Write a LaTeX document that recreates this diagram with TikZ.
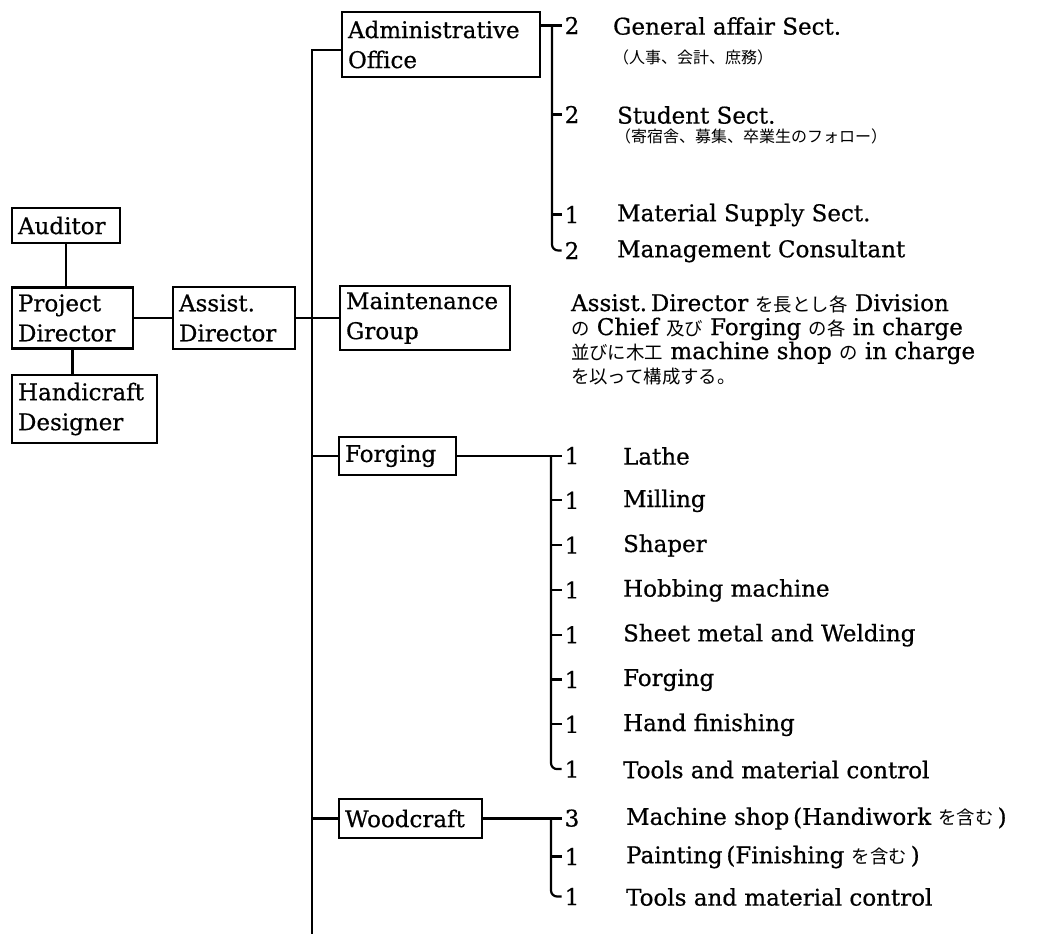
\documentclass[tikz,border=0pt]{standalone}
\usepackage{fontspec}
\setmainfont{DejaVu Serif}[FakeBold=0.6]
\newfontfamily\cjk{Noto Sans CJK JP}[Scale=0.8]
\newcommand\jp[1]{{\cjk #1}}
\usetikzlibrary{positioning}

\tikzset{
	unit/.style={draw=black,line width=1.1pt,inner sep=3pt,outer sep=0pt,align=left,font=\fontsize{11.5}{15}\selectfont},
	num/.style={inner sep=1.5pt,outer sep=0pt,anchor=base,font=\fontsize{11.5}{14}\selectfont},
	item/.style={anchor=west,inner sep=0pt,font=\fontsize{11.5}{14}\selectfont},
	sub/.style={anchor=west,inner sep=0pt,font=\fontsize{10}{12}\selectfont\cjk},
}

\begin{document}
\begin{tikzpicture}[x=.5pt,y=-.5pt,line width=1.1pt]
	\useasboundingbox (0,0) rectangle (1058,934);

	% top management
	\node [unit,text width=48pt,minimum height=17.5pt] at (66,225.5) (auditor) {Auditor};
	\node [unit,text width=54.5pt,minimum height=30.5pt] at (72.5,318) (proj_dir) {Project\\Director};
	\node [unit,text width=66.5pt,minimum height=34pt] at (84.5,409) (hc_designer) {Handicraft\\Designer};
	\node [unit,text width=55pt,minimum height=31pt] at (234,318) (asst_dir) {Assist.\\Director};

	% divisions
	\node [unit,text width=93pt,minimum height=32.5pt] at (441,44.5) (admin) {Administrative\\Office};
	\node [unit,text width=79pt,minimum height=31pt] at (425,318) (maint) {Maintenance\\Group};
	\node [unit,text width=52.5pt,minimum height=19pt] at (397.5,456) (forg) {Forging};
	\node [unit,text width=65.5pt,minimum height=19.5pt] at (410.5,818.5) (wood) {Woodcraft};

	\draw (auditor.south) -- (auditor.south |- proj_dir.north);
	\draw (proj_dir.south) -- (proj_dir.south |- hc_designer.north);
	\draw (proj_dir.east) -- (asst_dir.west);
	\draw (asst_dir.east) -- (maint.west);

	\coordinate (trunk_top) at (312,50);
	\coordinate (trunk_end) at (312,934);
	\draw (admin.west |- trunk_top) -- (trunk_top) -- (trunk_end);
	\draw (forg.west) -- (forg.west -| trunk_end);
	\draw (wood.west) -- (wood.west -| trunk_end);

	% administrative office
	\node [num] at (572,34) (adm_1) {2};
	\node [item] at (612,26) (adm_1_txt) {General affair Sect.};
	\node [sub] at (612,57) (adm_1_sub) {（人事、会計、庶務）};
	\node [num] at (572,123) (adm_2) {2};
	\node [item] at (616,115) (adm_2_txt) {Student Sect.};
	\node [sub] at (614,136) (adm_2_sub) {（寄宿舎、募集、卒業生のフォロー）};
	\node [num] at (572,223) (adm_3) {1};
	\node [item] at (616,215) (adm_3_txt) {Material Supply Sect.};
	\node [num] at (572,259) (adm_4) {2};
	\node [item] at (616,251) (adm_4_txt) {Management Consultant};

	\coordinate (adm_bus) at (552,26);
	\draw (admin.east |- adm_1.west) -- (adm_1.west);
	\draw [rounded corners=3pt] (adm_bus) |- (adm_4.west);
	\foreach \i in {2,3}
		\draw (adm_bus |- adm_\i.west) -- (adm_\i.west);

	% maintenance group
	\node [anchor=north west,align=left,inner sep=0pt,font=\fontsize{11.5}{12}\selectfont] at (570,293) (maint_note) {Assist.\,Director \jp{を長とし各} Division\\
		\jp{の} Chief \jp{及び} Forging \jp{の各} in charge\\
		\jp{並びに木工} machine shop \jp{の} in charge\\
		\jp{を以って構成する。}};

	% forging
	\foreach \t [count=\i] in {Lathe,Milling,Shaper,Hobbing machine,Sheet metal and Welding,Forging,Hand finishing,Tools and material control} {
		\node [num] at (572,{464+44.8*(\i-1)}) (forg_\i) {1};
		\node [item] at (622,{456+44.8*(\i-1)}) (forg_\i_txt) {\t};
	}
	\coordinate (forg_bus) at (551,456);
	\draw (forg.east) -- (forg.east -| forg_1.west);
	\draw [rounded corners=3pt] (forg_bus) |- (forg_8.west);
	\foreach \i in {2,...,7}
		\draw (forg_bus |- forg_\i.west) -- (forg_\i.west);

	% woodcraft
	\node [num] at (572,826.5) (wood_1) {3};
	\node [item] at (625,818.5) (wood_1_txt) {Machine shop\,(Handiwork \jp{を含む}\,)};
	\node [num] at (572,865) (wood_2) {1};
	\node [item] at (625,857) (wood_2_txt) {Painting\,(Finishing \jp{を含む}\,)};
	\node [num] at (572,905) (wood_3) {1};
	\node [item] at (625,897) (wood_3_txt) {Tools and material control};

	\coordinate (wood_bus) at (551,818.5);
	\draw (wood.east) -- (wood.east -| wood_1.west);
	\draw [rounded corners=3pt] (wood_bus) |- (wood_3.west);
	\draw (wood_bus |- wood_2.west) -- (wood_2.west);
\end{tikzpicture}
\end{document}
